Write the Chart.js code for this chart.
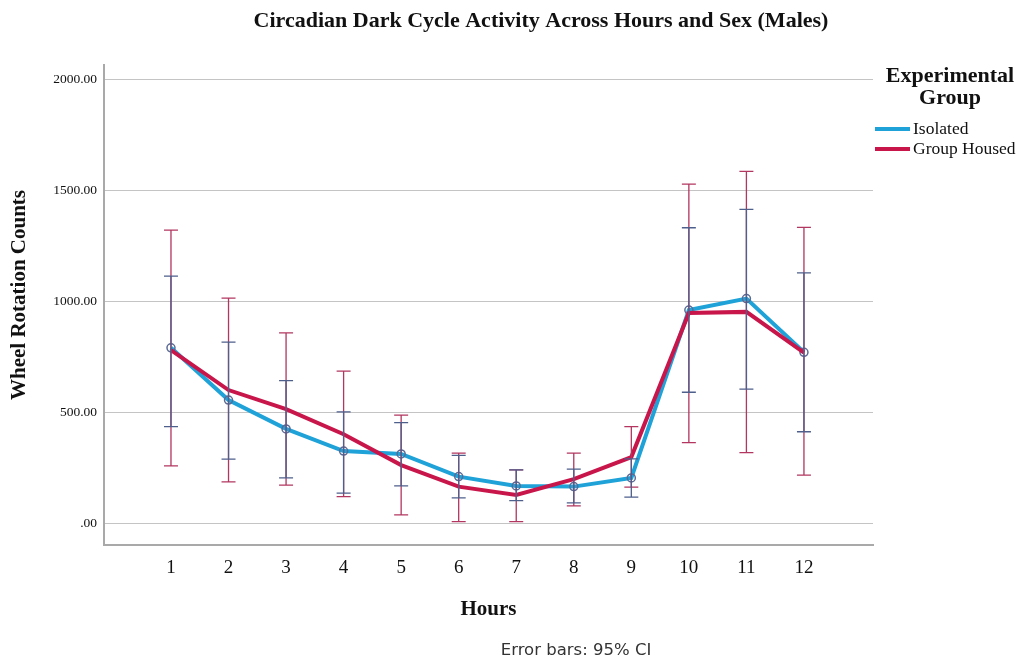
<!DOCTYPE html>
<html>
<head>
<meta charset="utf-8">
<title>Circadian Dark Cycle Activity</title>
<script src="https://cdn.jsdelivr.net/npm/chart.js@4.4.1/dist/chart.umd.min.js"></script>
<style>
    html, body { margin: 0; padding: 0; background: #fff; }
    #wrap { width: 1030px; height: 664px; }
</style>
</head>
<body>
<div id="wrap"><canvas id="activityChart" width="1030" height="664"></canvas></div>
<script>
// values
const hours = [1, 2, 3, 4, 5, 6, 7, 8, 9, 10, 11, 12];
const yTicks = [0, 500, 1000, 1500, 2000];

const isolatedMean = [790, 555, 425, 325, 312, 210, 168, 165, 204, 960, 1012, 770];
const isolatedLow  = [435, 289, 204, 136, 168, 114, 102, 92, 118, 590, 604, 412];
const isolatedHigh = [1113, 816, 642, 502, 453, 306, 240, 244, 290, 1331, 1414, 1128];

const groupMean = [780, 600, 514, 401, 262, 165, 127, 199, 298, 947, 952, 768];
const groupLow  = [258, 186, 172, 120, 38, 7, 7, 78, 163, 363, 318, 217];
const groupHigh = [1320, 1014, 857, 685, 487, 316, 240, 316, 435, 1527, 1585, 1333];

const BLUE = '#1ea2d8';
const RED = '#c8164b';
const SERIF = '"Liberation Serif", "Times New Roman", serif';

const errorBars = {
    id: 'errorBars',
    afterDatasetsDraw(chart) {
        const ctx = chart.ctx;
        const xs = chart.scales.x;
        const ys = chart.scales.y;
        const sets = [
            { low: groupLow, high: groupHigh, color: '#b23660' },
            { low: isolatedLow, high: isolatedHigh, color: '#4e5f8c' }
        ];
        ctx.save();
        ctx.lineWidth = 1.3;
        sets.forEach(s => {
            ctx.strokeStyle = s.color;
            hours.forEach((h, i) => {
                const x = xs.getPixelForValue(h);
                const y1 = ys.getPixelForValue(s.low[i]);
                const y2 = ys.getPixelForValue(s.high[i]);
                ctx.beginPath();
                ctx.moveTo(x, y1);
                ctx.lineTo(x, y2);
                ctx.moveTo(x - 7, y1);
                ctx.lineTo(x + 7, y1);
                ctx.moveTo(x - 7, y2);
                ctx.lineTo(x + 7, y2);
                ctx.stroke();
            });
        });
        ctx.restore();
    }
};

const decorations = {
    id: 'decorations',
    afterDraw(chart) {
        const ctx = chart.ctx;
        ctx.save();
        ctx.fillStyle = '#111';
        ctx.textBaseline = 'middle';

        // title
        ctx.textAlign = 'center';
        ctx.font = 'bold 22px ' + SERIF;
        ctx.fillText('Circadian Dark Cycle Activity Across Hours and Sex (Males)', 541, 21);

        // y axis title
        ctx.save();
        ctx.translate(20, 295);
        ctx.rotate(-Math.PI / 2);
        ctx.font = 'bold 21px ' + SERIF;
        ctx.fillText('Wheel Rotation Counts', 0, 0);
        ctx.restore();

        // legend
        ctx.font = 'bold 22px ' + SERIF;
        ctx.fillText('Experimental', 950, 76);
        ctx.fillText('Group', 950, 98);
        ctx.textAlign = 'left';
        ctx.font = '17.5px ' + SERIF;
        const items = [
            { label: 'Isolated', color: BLUE, y: 129 },
            { label: 'Group Housed', color: RED, y: 149 }
        ];
        items.forEach(it => {
            ctx.strokeStyle = it.color;
            ctx.lineWidth = 4;
            ctx.beginPath();
            ctx.moveTo(875, it.y);
            ctx.lineTo(910, it.y);
            ctx.stroke();
            ctx.fillText(it.label, 913, it.y);
        });

        // footnote
        ctx.textAlign = 'center';
        ctx.fillStyle = '#333';
        ctx.font = '16.5px "DejaVu Sans", sans-serif';
        ctx.fillText('Error bars: 95% CI', 576, 651);
        ctx.restore();
    }
};

new Chart(document.getElementById('activityChart'), {
    type: 'line',
    data: {
        datasets: [{
            label: 'Group Housed',
            data: hours.map((h, i) => ({ x: h, y: groupMean[i] })),
            borderColor: RED,
            backgroundColor: RED,
            borderWidth: 4,
            pointRadius: 0,
            tension: 0,
            order: 0
        }, {
            label: 'Isolated',
            data: hours.map((h, i) => ({ x: h, y: isolatedMean[i] })),
            borderColor: BLUE,
            backgroundColor: BLUE,
            borderWidth: 4,
            pointRadius: 4,
            pointBorderWidth: 1.5,
            pointBorderColor: '#5a6a94',
            pointBackgroundColor: 'rgba(0,0,0,0)',
            tension: 0,
            order: 1
        }]
    },
    options: {
        responsive: false,
        animation: false,
        layout: {
            padding: { top: 65, right: 157, left: 0, bottom: 0 }
        },
        plugins: {
            legend: { display: false },
            tooltip: { enabled: false }
        },
        scales: {
            x: {
                type: 'linear',
                min: -0.164,
                max: 13.2,
                afterBuildTicks: function(scale) {
                    scale.ticks = hours.map(v => ({ value: v }));
                },
                afterFit: function(scale) {
                    scale.height = 119;
                },
                grid: { display: false, drawTicks: false },
                border: { display: true, color: '#a9a9a9', width: 2 },
                ticks: {
                    autoSkip: false,
                    maxRotation: 0,
                    padding: 12,
                    color: '#111',
                    font: { family: SERIF, size: 19 },
                    callback: function(value) { return String(value); }
                },
                title: {
                    display: true,
                    text: 'Hours',
                    color: '#111',
                    font: { family: SERIF, size: 21, weight: 'bold' },
                    padding: { top: 0, bottom: 42 }
                }
            },
            y: {
                min: -98,
                max: 2064,
                afterBuildTicks: function(scale) {
                    scale.ticks = yTicks.map(v => ({ value: v }));
                },
                afterFit: function(scale) {
                    scale.width = 104;
                },
                grid: { color: '#c4c4c4', lineWidth: 1, drawTicks: false },
                border: { display: true, color: '#a9a9a9', width: 2 },
                ticks: {
                    padding: 7,
                    color: '#111',
                    font: { family: SERIF, size: 13.5 },
                    callback: function(value) {
                        return value === 0 ? '.00' : value.toFixed(2);
                    }
                }
            }
        }
    },
    plugins: [errorBars, decorations]
});
</script>
</body>
</html>
